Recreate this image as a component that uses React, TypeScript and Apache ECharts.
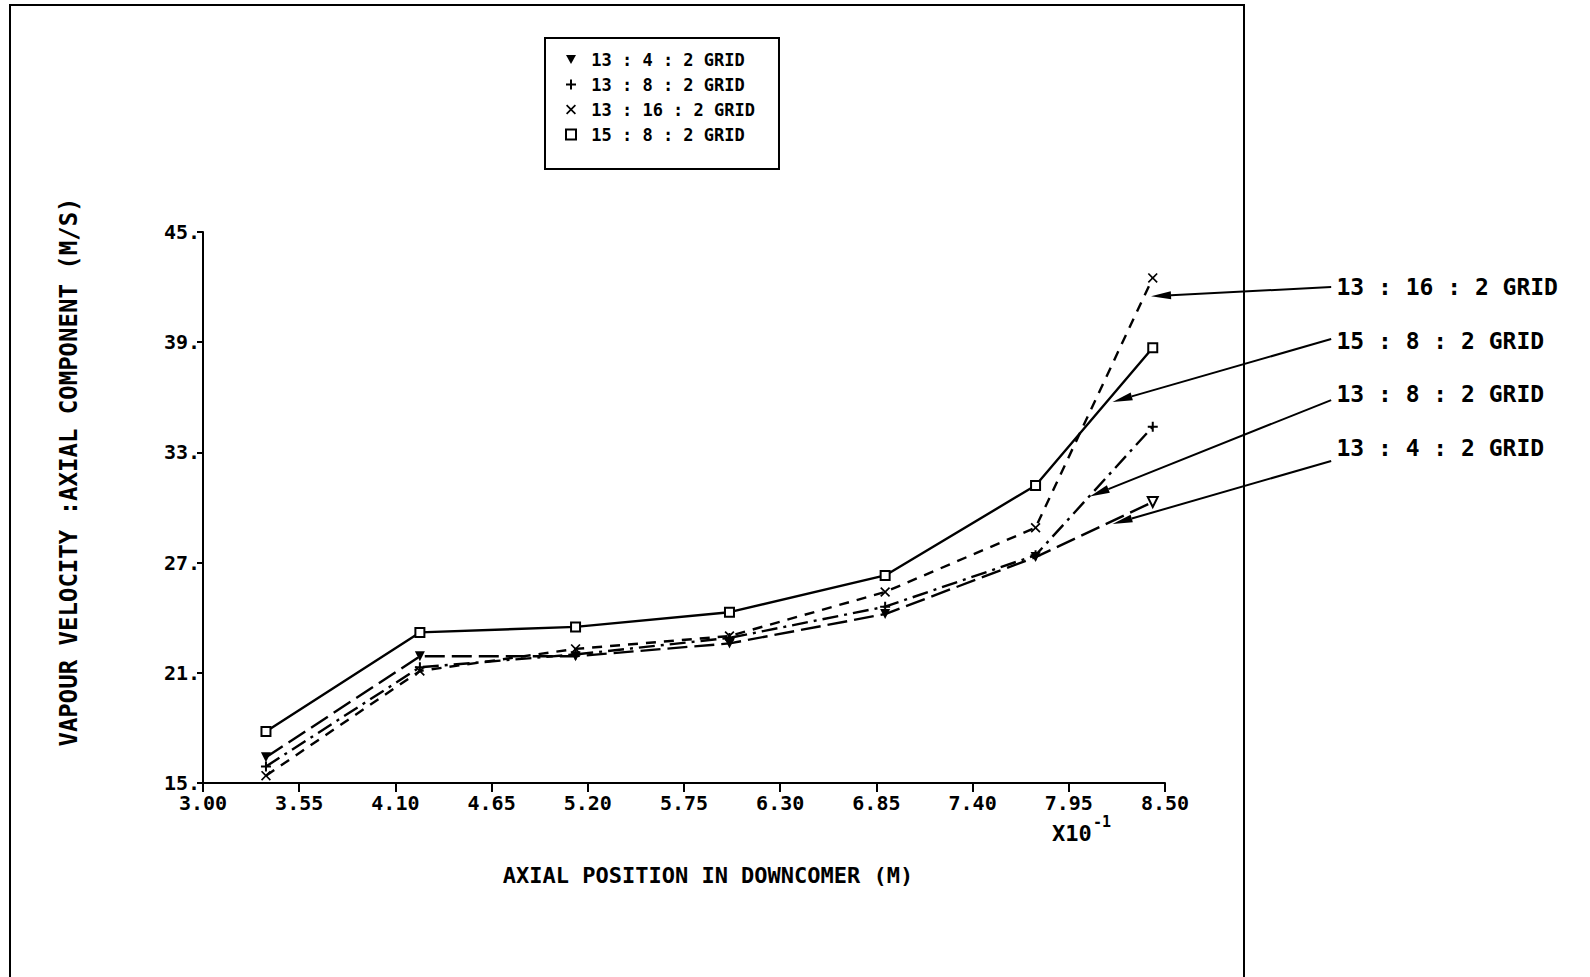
import React, { useEffect, useRef } from 'react';
import * as echarts from 'echarts';

const positions = [3.36, 4.24, 5.13, 6.01, 6.9, 7.76, 8.43];
const seriesNames = ['13 : 4 : 2 GRID', '13 : 8 : 2 GRID', '13 : 16 : 2 GRID', '15 : 8 : 2 GRID'];
const grid13_4 = [16.4, 21.9, 21.9, 22.6, 24.2, 27.3, 30.3];
const grid13_8 = [15.9, 21.3, 22.0, 22.9, 24.6, 27.4, 34.4];
const grid13_16 = [15.4, 21.1, 22.3, 23.0, 25.4, 28.9, 42.5];
const grid15_8 = [17.8, 23.2, 23.5, 24.3, 26.3, 31.2, 38.7];
const xTickLabels = ['3.00', '3.55', '4.10', '4.65', '5.20', '5.75', '6.30', '6.85', '7.40', '7.95', '8.50'];
const yTickLabels = ['15.', '21.', '27.', '33.', '39.', '45.'];

const annotationLabels = ['13 : 16 : 2 GRID', '15 : 8 : 2 GRID', '13 : 8 : 2 GRID', '13 : 4 : 2 GRID'];
const arrowTips = [[8.42, 41.5], [8.2, 35.75], [8.07, 30.6], [8.2, 29.1]];
const arrowTails = [[9.45, 42.0], [9.45, 39.17], [9.45, 35.85], [9.45, 32.53]];
const annotationAnchors = [[9.48, 42.0], [9.48, 39.06], [9.48, 36.18], [9.48, 33.24]];

const X0 = 3.0;
const XSTEP = 0.55;
const toAxisX = (x: number) => (x - X0) / XSTEP;

const MONO = '"DejaVu Sans Mono", monospace';

const triDown = 'path://M0,0 L10,0 L5,9 Z';
const plusSym = 'path://M4,0 H6 V4 H10 V6 H6 V10 H4 V6 H0 V4 H4 Z';
const crossSym = 'path://M1.2,0 L5,3.8 L8.8,0 L10,1.2 L6.2,5 L10,8.8 L8.8,10 L5,6.2 L1.2,10 L0,8.8 L3.8,5 L0,1.2 Z';

export default function App() {
  const ref = useRef<HTMLDivElement>(null);
  useEffect(() => {
    if (!ref.current) return;
    const chart = echarts.init(ref.current, undefined, { renderer: 'svg' });
    const mk = (vals: number[]) => vals.map((v, i) => [toAxisX(positions[i]), v]);
    const d13_4: any[] = mk(grid13_4).map((p, i, arr) =>
      i === arr.length - 1
        ? { value: p, itemStyle: { color: '#fff', borderColor: '#000', borderWidth: 2 } }
        : { value: p }
    );
    const baseSeries = {
      type: 'line',
      showSymbol: true,
      symbolSize: 10,
      clip: false,
      itemStyle: { color: '#000' },
    };
    const option: any = {
      animation: false,
      backgroundColor: '#fff',
      grid: { left: 203, top: 232, width: 962, height: 551 },
      legend: {
        orient: 'vertical',
        left: 545,
        top: 38,
        itemWidth: 10,
        itemHeight: 10,
        itemGap: 8,
        padding: [13, 24, 26, 20],
        borderColor: '#000',
        borderWidth: 2,
        formatter: (n: string) => ' ' + n,
        textStyle: { fontFamily: MONO, fontWeight: 'bold', fontSize: 17, color: '#000' },
        data: [
          { name: seriesNames[0], icon: triDown },
          { name: seriesNames[1], icon: plusSym },
          { name: seriesNames[2], icon: crossSym },
          { name: seriesNames[3], icon: 'emptyRect' },
        ],
      },
      xAxis: {
        type: 'value',
        min: 0,
        max: 10,
        interval: 1,
        splitLine: { show: false },
        axisLine: { lineStyle: { color: '#000', width: 2 } },
        axisTick: { show: true, length: 9, lineStyle: { color: '#000', width: 2 } },
        axisLabel: {
          color: '#000',
          fontFamily: MONO,
          fontWeight: 'bold',
          fontSize: 20,
          margin: 10,
          formatter: (v: number) => xTickLabels[Math.round(v)],
        },
      },
      yAxis: {
        type: 'value',
        min: 15,
        max: 45,
        interval: 6,
        splitLine: { show: false },
        axisLine: { show: true, lineStyle: { color: '#000', width: 2 } },
        axisTick: { show: true, length: 6, lineStyle: { color: '#000', width: 2 } },
        axisLabel: {
          color: '#000',
          fontFamily: MONO,
          fontWeight: 'bold',
          fontSize: 20,
          margin: 3,
          verticalAlign: 'middle',
          padding: [0, 0, 14, 0],
          formatter: (v: number) => yTickLabels[Math.round((v - 15) / 6)],
        },
      },
      series: [
        {
          ...baseSeries,
          name: seriesNames[0],
          symbol: triDown,
          data: d13_4,
          lineStyle: { color: '#000', width: 2.4, type: [20, 7] },
        },
        {
          ...baseSeries,
          name: seriesNames[1],
          symbol: plusSym,
          data: mk(grid13_8),
          lineStyle: { color: '#000', width: 2.4, type: [16, 6, 3, 6] },
        },
        {
          ...baseSeries,
          name: seriesNames[2],
          symbol: crossSym,
          data: mk(grid13_16),
          lineStyle: { color: '#000', width: 2.4, type: [10, 8] },
        },
        {
          ...baseSeries,
          name: seriesNames[3],
          symbol: 'emptyRect',
          symbolSize: 9,
          itemStyle: { color: '#000', borderWidth: 2 },
          data: mk(grid15_8),
          lineStyle: { color: '#000', width: 2.4, type: 'solid' },
        },
      ],
    };
    chart.setOption(option);

    const px = (p: number[]) => chart.convertToPixel({ gridIndex: 0 }, [toAxisX(p[0]), p[1]]) as number[];
    const graphics: any[] = [
      {
        type: 'polyline',
        shape: { points: [[10, 990], [10, 5], [1244, 5], [1244, 990]] },
        style: { stroke: '#000', lineWidth: 2, fill: 'none' },
      },
    ];
    annotationLabels.forEach((label, i) => {
      const tip = px(arrowTips[i]);
      const tail = px(arrowTails[i]);
      const anchor = px(annotationAnchors[i]);
      const dx = tip[0] - tail[0];
      const dy = tip[1] - tail[1];
      const len = Math.sqrt(dx * dx + dy * dy);
      const ux = dx / len;
      const uy = dy / len;
      const L = 20;
      const w = 4;
      const bx = tip[0] - ux * L;
      const by = tip[1] - uy * L;
      graphics.push({
        type: 'line',
        shape: { x1: tail[0], y1: tail[1], x2: bx, y2: by },
        style: { stroke: '#000', lineWidth: 2 },
      });
      graphics.push({
        type: 'polygon',
        shape: { points: [[tip[0], tip[1]], [bx - uy * w, by + ux * w], [bx + uy * w, by - ux * w]] },
        style: { fill: '#000' },
      });
      graphics.push({
        type: 'text',
        x: anchor[0],
        y: anchor[1],
        style: {
          text: label,
          fill: '#000',
          font: 'bold 23px ' + MONO,
          textAlign: 'left',
          textVerticalAlign: 'middle',
        },
      });
    });
    graphics.push({
      type: 'text',
      x: 69,
      y: 472,
      rotation: Math.PI / 2,
      style: {
        text: 'VAPOUR VELOCITY :AXIAL COMPONENT (M/S)',
        fill: '#000',
        font: 'bold 24px ' + MONO,
        textAlign: 'center',
        textVerticalAlign: 'middle',
      },
    });
    graphics.push({
      type: 'text',
      x: 708,
      y: 875,
      style: {
        text: 'AXIAL POSITION IN DOWNCOMER (M)',
        fill: '#000',
        font: 'bold 22px ' + MONO,
        textAlign: 'center',
        textVerticalAlign: 'middle',
      },
    });
    graphics.push({
      type: 'text',
      x: 1052,
      y: 833,
      style: { text: 'X10', fill: '#000', font: 'bold 22px ' + MONO, textAlign: 'left', textVerticalAlign: 'middle' },
    });
    graphics.push({
      type: 'text',
      x: 1093,
      y: 822,
      style: { text: '-1', fill: '#000', font: 'bold 15px ' + MONO, textAlign: 'left', textVerticalAlign: 'middle' },
    });
    chart.setOption({ graphic: graphics });

    return () => chart.dispose();
  }, []);
  return <div ref={ref} style={{ position: 'absolute', left: 0, top: 0, width: 1590, height: 977 }} />;
}
